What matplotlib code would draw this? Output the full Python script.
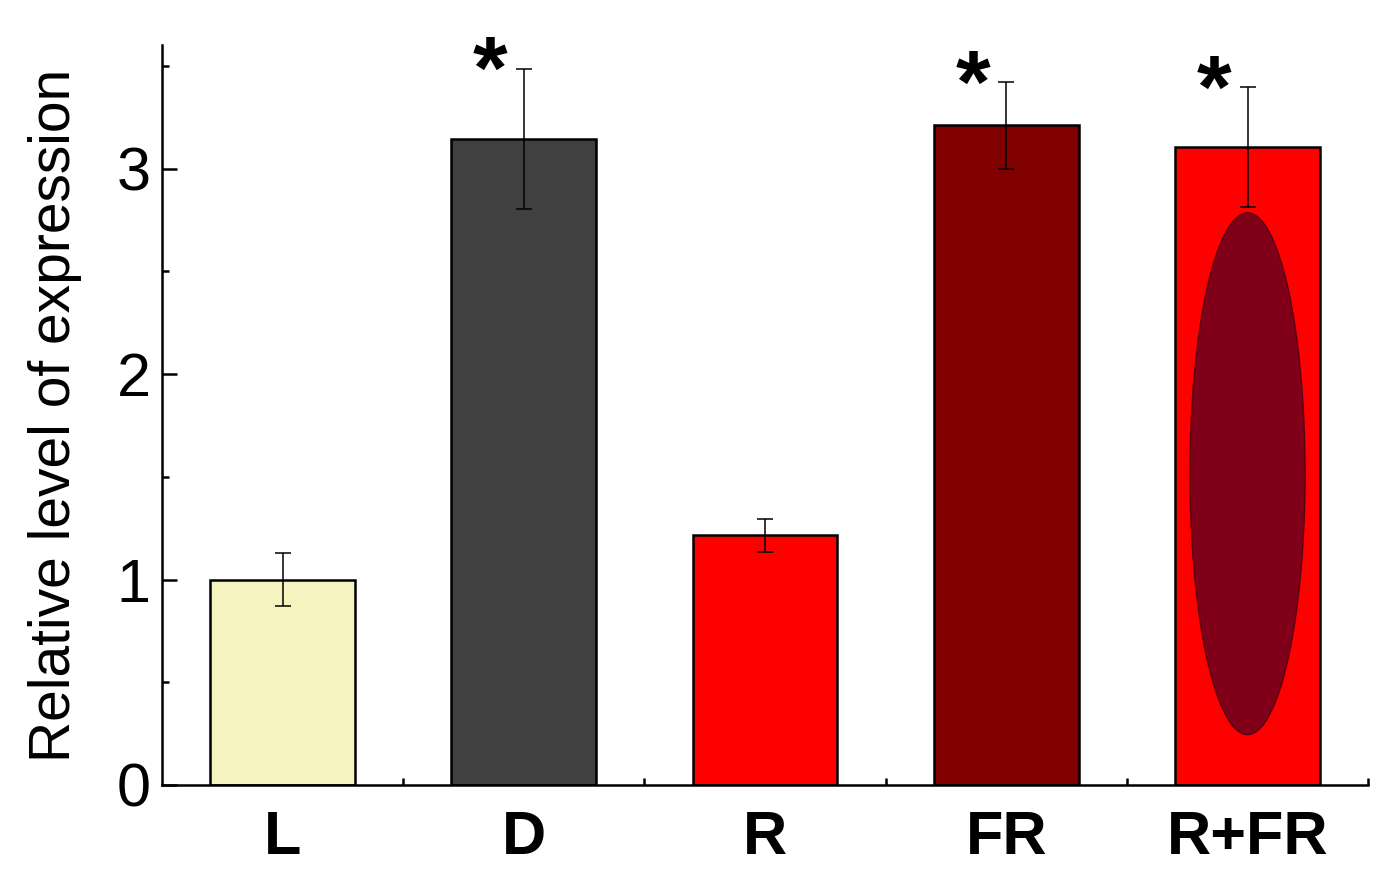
import matplotlib
matplotlib.use('Agg')
import matplotlib.pyplot as plt
from matplotlib.patches import Ellipse
from matplotlib.ticker import MultipleLocator

plt.rcParams['font.family'] = ['Liberation Sans', 'DejaVu Sans']

groups = ['L', 'D', 'R', 'FR', 'R+FR']
values = [1.0, 3.145, 1.215, 3.21, 3.105]
errors = [0.13, 0.34, 0.08, 0.21, 0.29]
colors = ['#f5f3c0', '#404040', '#ff0000', '#800000', '#ff0000']
significant = [False, True, False, True, True]

fig = plt.figure(figsize=(13.88, 8.88), dpi=100)
ax = fig.add_axes([0.1167, 0.116, 0.869, 0.833])

x = list(range(len(groups)))
ax.bar(x, values, width=0.6, color=colors, edgecolor='black', linewidth=1.8, zorder=2)

# dark oval drawn inside the last bar
ax.add_patch(Ellipse((4, 1.515), 0.477, 2.54, facecolor='#80001a',
                     edgecolor='#5a0010', linewidth=1.0, zorder=3))

ax.errorbar(x, values, yerr=errors, fmt='none', ecolor='black',
            elinewidth=1.1, capsize=6, capthick=1.1, zorder=4)

for i, s in enumerate(significant):
    if s:
        ax.text(i - 0.14, values[i] + errors[i] - 0.03, '*', fontsize=64,
                fontweight='bold', ha='center', va='center', zorder=5)

ax.set_xlim(-0.5, 4.5)
ax.set_ylim(0, 3.6)
ax.set_xticks(x)
ax.set_xticklabels(groups, fontsize=44, fontweight='bold')
ax.set_xticks([0.5, 1.5, 2.5, 3.5, 4.5], minor=True)
ax.set_yticks([0, 1, 2, 3])
ax.yaxis.set_minor_locator(MultipleLocator(0.5))
ax.tick_params(axis='x', which='major', length=0, pad=18)
ax.tick_params(axis='x', which='minor', direction='in', length=5, width=1.8)
ax.tick_params(axis='y', which='major', direction='in', length=11, width=1.8,
               labelsize=44, pad=8)
ax.tick_params(axis='y', which='minor', direction='in', length=5, width=1.8)
ax.set_ylabel('Relative level of expression', fontsize=41, labelpad=25)

ax.spines['top'].set_visible(False)
ax.spines['right'].set_visible(False)
ax.spines['left'].set_linewidth(1.8)
ax.spines['bottom'].set_linewidth(1.8)

fig.savefig('out.png', dpi=100)
